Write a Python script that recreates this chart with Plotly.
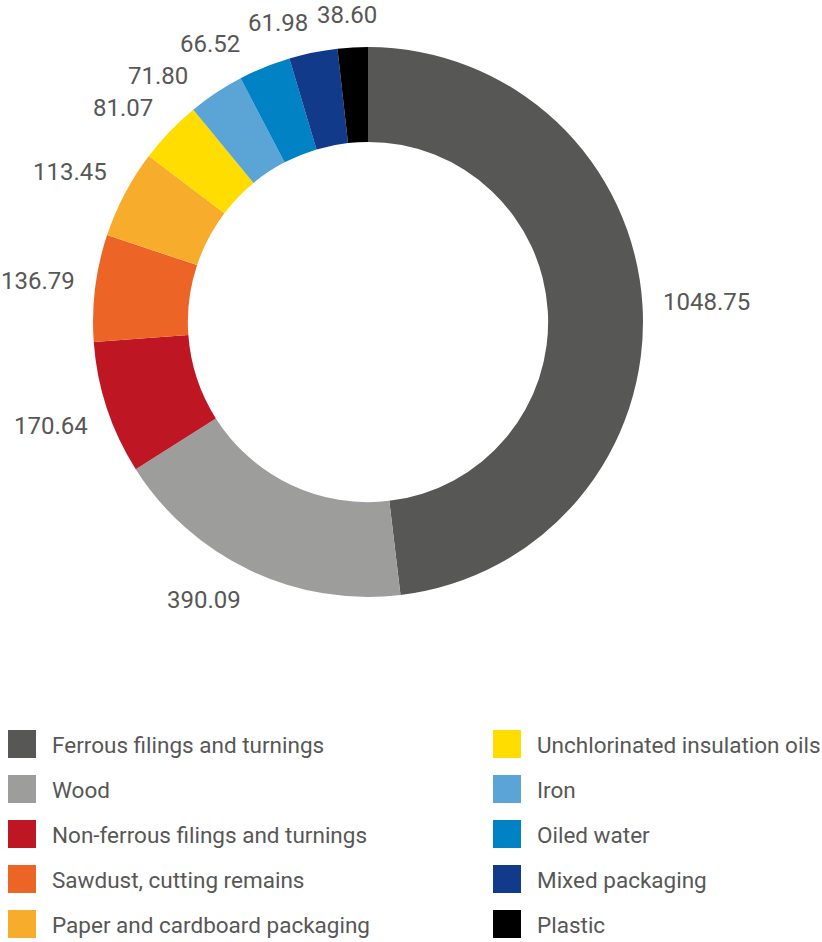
import math
import plotly.graph_objects as go

# Waste quantities by type
categories = [
    "Ferrous filings and turnings",
    "Wood",
    "Non-ferrous filings and turnings",
    "Sawdust, cutting remains",
    "Paper and cardboard packaging",
    "Unchlorinated insulation oils",
    "Iron",
    "Oiled water",
    "Mixed packaging",
    "Plastic",
]
values = [1048.75, 390.09, 170.64, 136.79, 113.45, 81.07, 71.80, 66.52, 61.98, 38.60]
colors = [
    "#575756", "#9d9d9c", "#be1622", "#ec6526", "#f7ac2b",
    "#ffdd00", "#5ba4d6", "#0082c4", "#123a8b", "#000000",
]

TEXT_COLOR = "#575756"
FONT = "Roboto, Arial, sans-serif"
W, H = 822, 942

# Donut geometry (pixels)
CX, CY, R_OUT = 368, 322, 275
HOLE = 0.655
R_LABEL = 295          # where the value label box touches its slice direction
LABEL_FS = 24
LABEL_PAD = 7

fig = go.Figure()

fig.add_trace(go.Pie(
    labels=categories,
    values=values,
    marker=dict(colors=colors, line=dict(width=0)),
    hole=HOLE,
    sort=False,
    direction="clockwise",
    rotation=0,
    textinfo="none",
    showlegend=False,
    domain=dict(x=[(CX - R_OUT) / W, (CX + R_OUT) / W],
                y=[1 - (CY + R_OUT) / H, 1 - (CY - R_OUT) / H]),
))

# ---- value labels: placed outside each slice at its mid-angle, spread to avoid overlap
value_text = [f"{v:.2f}" for v in values]
total = sum(values)
mids = []
acc = 0.0
for v in values:
    mids.append((acc + v / 2) / total * 360.0)
    acc += v


def text_size(s):
    w = sum(0.562 if ch.isdigit() else 0.263 for ch in s) * LABEL_FS
    return w, LABEL_FS


def place(theta, w, h):
    t = math.radians(theta)
    sx, sy = math.sin(t), -math.cos(t)
    px, py = CX + R_LABEL * sx, CY + R_LABEL * sy
    ox = w / 2 * max(-1.0, min(1.0, sx * 3))
    oy = h / 2 * max(-1.0, min(1.0, sy * 3))
    return px + ox, py + oy


def overlaps(a, b, pad=LABEL_PAD):
    (ax, ay, aw, ah), (bx, by, bw, bh) = a, b
    return abs(ax - bx) < (aw + bw) / 2 + pad and abs(ay - by) < (ah + bh) / 2 + pad


right = sorted([i for i, m in enumerate(mids) if m < 180], key=lambda i: mids[i])
left = sorted([i for i, m in enumerate(mids) if m >= 180], key=lambda i: -mids[i])
boxes = {}
for group, step in ((right, 0.5), (left, -0.5)):
    for i in group:
        w, h = text_size(value_text[i])
        theta = mids[i]
        x, y = place(theta, w, h)
        while any(overlaps((x, y, w, h), b) for b in boxes.values()):
            theta += step
            x, y = place(theta, w, h)
        boxes[i] = (x, y, w, h)

annotations = []
for i, txt in enumerate(value_text):
    x, y, _, _ = boxes[i]
    annotations.append(dict(
        x=x / W, y=1 - y / H, xref="paper", yref="paper",
        text=txt, showarrow=False, xanchor="center", yanchor="middle",
        font=dict(family=FONT, size=LABEL_FS, color=TEXT_COLOR),
    ))

# ---- two-column key below the donut: squares + names, column-major order
rows_per_col = 5
col_idx = [i // rows_per_col for i in range(len(categories))]
row_idx = [i % rows_per_col for i in range(len(categories))]
COL_STEP = 485
ROW_STEP = 45
text_gap = 30 / COL_STEP
text_drop = 3 / ROW_STEP

fig.add_trace(go.Scatter(
    x=col_idx, y=row_idx, mode="markers",
    marker=dict(symbol="square", size=28, color=colors, line=dict(width=0)),
    showlegend=False, hoverinfo="skip",
))
fig.add_trace(go.Scatter(
    x=[c + text_gap for c in col_idx], y=[r + text_drop for r in row_idx], mode="text",
    text=categories, textposition="middle right",
    textfont=dict(family=FONT, size=22.5, color=TEXT_COLOR),
    showlegend=False, hoverinfo="skip",
))

fig.update_layout(
    width=W, height=H,
    margin=dict(l=0, r=0, t=0, b=0),
    paper_bgcolor="white", plot_bgcolor="white",
    annotations=annotations,
    xaxis=dict(range=[-22 / COL_STEP, 800 / COL_STEP], domain=[0, 1],
               visible=False, fixedrange=True),
    yaxis=dict(range=[(942 - 744) / ROW_STEP, (706.5 - 744) / ROW_STEP], domain=[0, 0.25],
               visible=False, fixedrange=True),
)

fig.write_html("out.html")
